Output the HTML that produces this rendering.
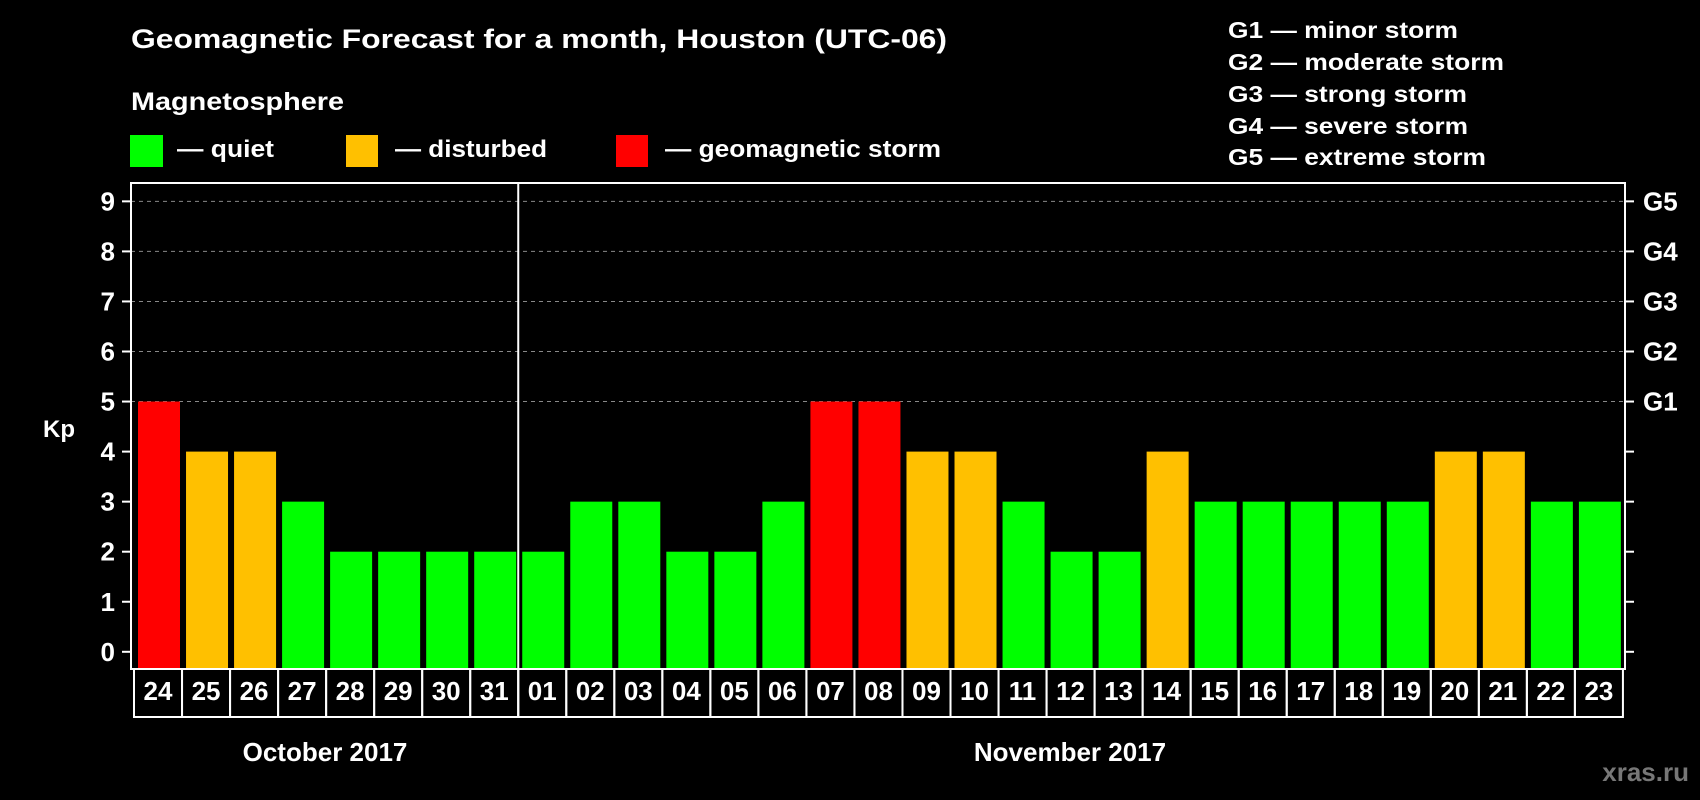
<!DOCTYPE html>
<html><head><meta charset="utf-8"><style>
html,body{margin:0;padding:0;background:#000;}
svg{display:block;font-family:"Liberation Sans",Arial,sans-serif;font-weight:bold;}
</style></head><body>
<svg id="chart" width="1700" height="800" viewBox="0 0 1700 800" xmlns="http://www.w3.org/2000/svg">
<rect width="1700" height="800" fill="#000"/>
<text x="131" y="48" fill="#fff" font-size="27" textLength="816" lengthAdjust="spacingAndGlyphs">Geomagnetic Forecast for a month, Houston (UTC-06)</text>
<text x="131" y="110" fill="#fff" font-size="25" textLength="213" lengthAdjust="spacingAndGlyphs">Magnetosphere</text>
<rect x="130" y="135" width="33" height="32" fill="#00ff00"/>
<text x="177" y="157" fill="#fff" font-size="24" textLength="97" lengthAdjust="spacingAndGlyphs">— quiet</text>
<rect x="346" y="135" width="32" height="32" fill="#ffc000"/>
<text x="395" y="157" fill="#fff" font-size="24" textLength="152" lengthAdjust="spacingAndGlyphs">— disturbed</text>
<rect x="616" y="135" width="32" height="32" fill="#ff0000"/>
<text x="665" y="157" fill="#fff" font-size="24" textLength="276" lengthAdjust="spacingAndGlyphs">— geomagnetic storm</text>
<g fill="#fff" font-size="23">
<text x="1228" y="38" textLength="230" lengthAdjust="spacingAndGlyphs">G1 — minor storm</text>
<text x="1228" y="70" textLength="276" lengthAdjust="spacingAndGlyphs">G2 — moderate storm</text>
<text x="1228" y="102" textLength="239" lengthAdjust="spacingAndGlyphs">G3 — strong storm</text>
<text x="1228" y="134" textLength="240" lengthAdjust="spacingAndGlyphs">G4 — severe storm</text>
<text x="1228" y="165" textLength="258" lengthAdjust="spacingAndGlyphs">G5 — extreme storm</text>
</g>
<text x="43" y="437" fill="#fff" font-size="24">Kp</text>
<g id="plot"></g>
<text x="325" y="761" fill="#fff" font-size="26" text-anchor="middle">October 2017</text>
<text x="1070" y="761" fill="#fff" font-size="26" text-anchor="middle">November 2017</text>
<text x="1689" y="781" fill="#777" font-size="26" text-anchor="end">xras.ru</text>
</svg>
<script>
const days = ["24","25","26","27","28","29","30","31","01","02","03","04","05","06","07","08","09","10","11","12","13","14","15","16","17","18","19","20","21","22","23"];
const kpValues = [5,4,4,3,2,2,2,2,2,3,3,2,2,3,5,5,4,4,3,2,2,4,3,3,3,3,3,4,4,3,3];
const yTicks = [0,1,2,3,4,5,6,7,8,9];
const gLabels = ["G1","G2","G3","G4","G5"];
const monthBreakIndex = 8;

const NS = "http://www.w3.org/2000/svg";
const g = document.getElementById('plot');
const L = 131, R = 1625, T = 183, B = 669;
const y = v => 651.8 - 50.05 * v;
const slotX = i => 134 + 48.03 * i;
function mk(tag, attrs, parent) {
  const e = document.createElementNS(NS, tag);
  for (const k in attrs) e.setAttribute(k, attrs[k]);
  (parent || g).appendChild(e);
  return e;
}
function color(v) { return v >= 5 ? "#ff0000" : (v >= 4 ? "#ffc000" : "#00ff00"); }

// gridlines
yTicks.forEach(v => {
  if (v >= 5) {
    const gl = mk('line', {x1: L, x2: R, y1: y(v), y2: y(v), stroke: "#888", "stroke-width": 1, "stroke-dasharray": "4,4"});
    
    
  }
});
// bars
kpValues.forEach((v, i) => {
  const x0 = slotX(i) + 4;
  const b = mk('rect', {x: x0, y: y(v), width: 42, height: B - y(v), fill: color(v)});
  
  
});
// frame
const fr = mk('rect', {x: L, y: T, width: R - L, height: B - T, fill: "none", stroke: "#fff", "stroke-width": 2});


// ticks & labels
yTicks.forEach(v => {
  mk('line', {x1: L - 9, x2: L, y1: y(v), y2: y(v), stroke: "#fff", "stroke-width": 2});
  mk('line', {x1: R, x2: R + 9, y1: y(v), y2: y(v), stroke: "#fff", "stroke-width": 2});
  const t = mk('text', {x: 115, y: y(v) + 9, fill: "#fff", "font-size": 26, "text-anchor": "end"});
  t.textContent = v;
  
  
});
gLabels.forEach((lab, k) => {
  const t = mk('text', {x: 1643, y: y(5 + k) + 9, fill: "#fff", "font-size": 26});
  t.textContent = lab;
  
  
});
// date boxes
days.forEach((d, i) => {
  const bx = mk('rect', {x: slotX(i), y: B, width: 48.03, height: 48, fill: "none", stroke: "#fff", "stroke-width": 2});
  
  
  const t = mk('text', {x: slotX(i) + 24, y: 700, fill: "#fff", "font-size": 26, "text-anchor": "middle"});
  t.textContent = d;
  
  
});
// month divider
const dv = mk('line', {x1: slotX(monthBreakIndex), x2: slotX(monthBreakIndex), y1: T, y2: 717, stroke: "#fff", "stroke-width": 2});


</script>
</body></html>
